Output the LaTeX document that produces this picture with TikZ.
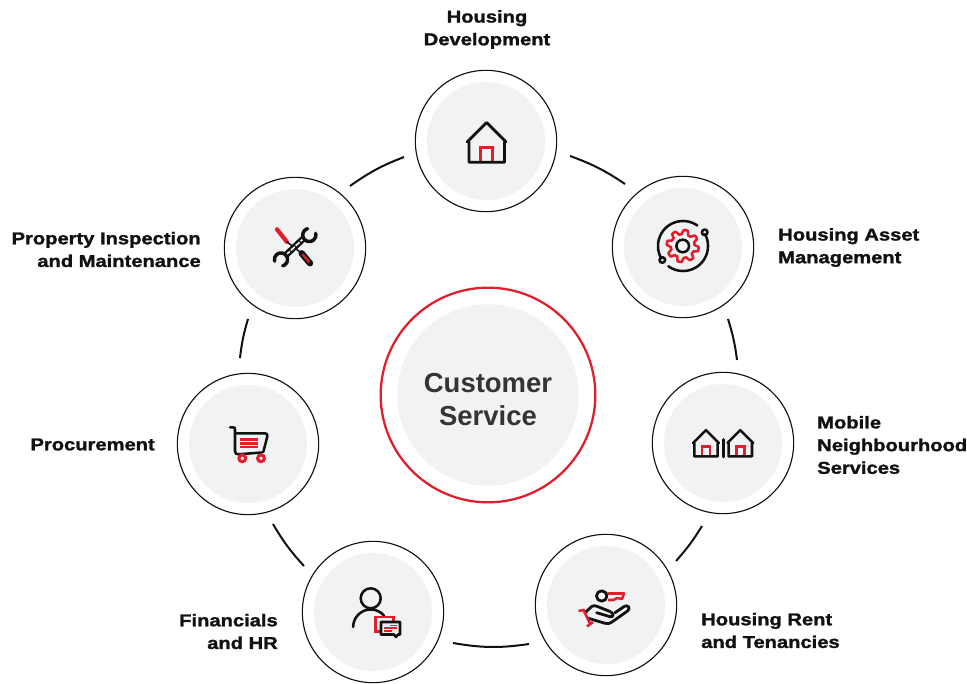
\documentclass[tikz,border=0pt]{standalone}
\usepackage{fontspec}
\setmainfont{Liberation Sans}
\newfontfamily\wideheavy[FakeStretch=1.18,FakeBold=1.5]{Liberation Sans Bold}
\definecolor{ringred}{HTML}{E01F2D}
\definecolor{softgray}{HTML}{F1F2F4}
\definecolor{inkblack}{HTML}{111111}
\definecolor{titlegray}{HTML}{333436}
\tikzset{
  x=0.75pt,y=-0.75pt,
  outerdisc/.style={circle,draw=inkblack,line width=0.85pt,fill=white,minimum size=106pt,inner sep=0pt},
  innerdisc/.style={circle,fill=softgray,minimum size=88.5pt,inner sep=0pt},
  reddisc/.style={circle,draw=ringred,line width=1.7pt,fill=white,minimum size=161pt,inner sep=0pt},
  centredisc/.style={circle,fill=softgray,minimum size=136pt,inner sep=0pt},
  centretext/.style={font=\fontsize{20.6}{24.2}\selectfont\bfseries,text=titlegray,align=center,inner sep=0pt},
  lab/.style={font=\wideheavy\fontsize{12.8}{17}\selectfont,text=inkblack,inner sep=0pt},
  ringarc/.style={draw=inkblack,line width=1.5pt},
  blk/.style={draw=inkblack,line width=2.1pt,line join=round,line cap=round},
  redl/.style={draw=ringred,line width=2.1pt,line join=miter},
  thinblk/.style={draw=inkblack,line width=1.9pt,line join=round,line cap=round},
  thinred/.style={draw=ringred,line width=1.9pt},
  hairred/.style={draw=ringred,line width=0.9pt},
}
\newcommand{\hutblk}{(-19.5,0) -- (0,-19.5) -- (19.5,0) (-17.7,0) -- (-17.7,20.3) -- (17.7,20.3) -- (17.7,0)}
\newcommand{\hutred}{(-6,20.3) -- (-6,5.3) -- (6,5.3) -- (6,20.3)}
\newcommand{\arcpx}[5]{plot[domain=#4:#5,samples=40,smooth,variable=\t] ({#1+#3*cos(\t)},{#2-#3*sin(\t)})}
\begin{document}
\begin{tikzpicture}
\useasboundingbox (0,0) rectangle (967,684);
% connectors
\coordinate (a1) at (570,156); \coordinate (a2) at (625,184);
\coordinate (b1) at (728,319); \coordinate (b2) at (737,360);
\coordinate (c1) at (702,526); \coordinate (c2) at (676,561);
\coordinate (d1) at (529,644); \coordinate (d2) at (453,643);
\coordinate (e1) at (304,566); \coordinate (e2) at (273,524);
\coordinate (f1) at (240,358); \coordinate (f2) at (248,319);
\coordinate (g1) at (350,186); \coordinate (g2) at (404,157);
\draw[ringarc] (a1) to[bend left=7] (a2);
\draw[ringarc] (b1) to[bend left=5] (b2);
\draw[ringarc] (c1) to[bend left=5] (c2);
\draw[ringarc] (d1) to[bend left=9] (d2);
\draw[ringarc] (e1) to[bend left=6] (e2);
\draw[ringarc] (f1) to[bend left=5] (f2);
\draw[ringarc] (g1) to[bend left=7] (g2);
% discs
\node[reddisc] (hub) at (488,395) {};
\node[centredisc] (hubin) at (488,395) {};
\node[centretext] (hubtext) at (488,399.5) {Customer\\Service};
\foreach \nm/\px/\py in {dev/486/141,asset/683/247,mobile/723/443,rent/606/605,fin/373/612,proc/248/444,prop/295/248}{
  \node[outerdisc] (\nm) at (\px,\py) {};
  \node[innerdisc] (\nm in) at (\px,\py) {};
}
% labels
\node[lab,align=center] (ldev) at (487,29.5) {Housing\\Development};
\node[lab,align=left,anchor=west] (lasset) at (778,247.5) {Housing Asset\\Management};
\node[lab,align=left,anchor=west] (lmobile) at (817,445) {Mobile\\Neighbourhood\\Services};
\node[lab,align=left,anchor=west] (lrent) at (701,630.5) {Housing Rent\\and Tenancies};
\node[lab,align=right,anchor=east] (lfin) at (278,631.5) {Financials\\and HR};
\node[lab,align=right,anchor=east] (lproc) at (155,444.5) {Procurement};
\node[lab,align=right,anchor=east] (lprop) at (201,249.5) {Property Inspection\\and Maintenance};
% house icon
\begin{scope}[shift={(486.7,142)}]
  \draw[redl] \hutred; \draw[blk] \hutblk;
\end{scope}
% twin houses
\begin{scope}[shift={(706,443)},x=0.495pt,y=-0.495pt]
  \draw[thinred] \hutred; \draw[thinblk] \hutblk;
\end{scope}
\begin{scope}[shift={(740.3,443)},x=0.495pt,y=-0.495pt]
  \draw[thinred] \hutred; \draw[thinblk] \hutblk;
\end{scope}
\draw[thinblk] (723.3,439.5) -- (723.3,457);
% gear icon
\draw[thinred,line join=round] plot[smooth cycle,samples=129,domain=0:357.2,variable=\t] ({682.7+(14+2.5*(sin(8*\t)+0.22*sin(24*\t)))*cos(\t)},{246+(14+2.5*(sin(8*\t)+0.22*sin(24*\t)))*sin(\t)});
\draw[thinblk] (682.7,246) circle (6.3);
\draw[thinblk] \arcpx{683}{246}{25}{55}{210};
\draw[thinblk] \arcpx{683}{246}{25}{234}{388};
\draw[thinblk] (662.3,260) circle (2.8);
\draw[thinblk] (704.7,232.3) circle (2.8);
% key in hand
\draw[thinred,line join=round,fill=softgray] (607.3,593.5) -- (624,593.5) -- (622,599) -- (617,598) -- (613.5,600) -- (608,600);
\draw[thinblk,line width=2.1pt] (601.7,596) circle (5.2);
\draw[thinblk,line width=2.1pt] (585,612.7) -- (591.7,606.5) .. controls (593,605.5) and (595,605.5) .. (597,606.3) -- (610,611.5) .. controls (614,613) and (614,617.5) .. (610,616.7) -- (596.7,612.7);
\draw[thinblk,line width=2.1pt] (588.3,618.3) -- (605,623.3) .. controls (608,624) and (610,623.5) .. (612,622) -- (627.5,611) .. controls (631,608) and (628,604.5) .. (624.5,606.3) -- (615,612.7);
\draw[thinred] (578.5,611) -- (583.5,610) -- (590,623.5) (587,626.5) -- (593,622);
% person with speech bubbles
\draw[thinblk] (370.7,598.3) circle (10);
\draw[thinblk] \arcpx{370.7}{627}{17.5}{180}{40};
\draw[thinred,fill=softgray] (381,631.5) -- (375.5,631.5) -- (375.5,617) -- (393.5,617) -- (393.5,623);
\draw[thinblk,fill=softgray] (381,622) -- (400,622) -- (400,634.5) -- (398,634.5) -- (396,637) -- (394,634.5) -- (381,634.5) -- cycle;
\draw[hairred] (390,625.5) -- (397,625.5) (384,628) -- (397,628) (384,631) -- (392,631);
% shopping cart
\draw[thinblk] (230,427.3) -- (233,427.3) .. controls (234.5,427.3) and (235,428) .. (235,429.5) -- (235,451) .. controls (235,453.5) and (236,454.3) .. (238.3,454.3) -- (262,452.5) (235,433.3) -- (265,433.3) .. controls (267,433.3) and (267.8,434.5) .. (267.3,436.5) -- (263.3,452);
\draw[thinred,line width=2pt] (240,439.3) -- (258.3,439.3) (240,443.3) -- (258.3,443.3) (240,447) -- (258.3,447);
\draw[thinred,line width=2.3pt] (242.3,458.3) circle (3.4) (261,458.3) circle (3.4);
% tools
\draw[draw=ringred,line width=3.2pt,line cap=round] (277,229.3) -- (286.7,241.7);
\draw[draw=inkblack,line width=1.1pt] (286.7,241.7) -- (301.7,253.3);
\draw[draw=inkblack,line width=4.8pt,line cap=round] (301.7,253.3) -- (310,263.3);
\draw[draw=ringred,line width=1.7pt] (302.5,254.3) -- (309.3,262.5);
\draw[draw=inkblack,line width=4.8pt] (285.5,255.5) -- (304.5,237.5);
\draw[draw=softgray,line width=1.2pt,dash pattern=on 4pt off 1pt] (286,255) -- (304,238);
\draw[thinblk,line width=2.6pt] \arcpx{281}{259.5}{6.5}{285}{555};
\draw[thinblk,line width=2.6pt] \arcpx{309.3}{235}{6.5}{105}{375};
\end{tikzpicture}
\end{document}
